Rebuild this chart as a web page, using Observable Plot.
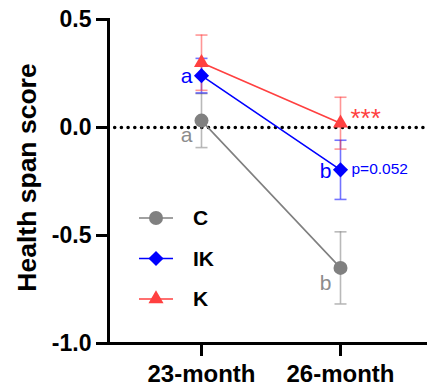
<!DOCTYPE html>
<html>
<head>
<meta charset="utf-8">
<script src="https://cdn.jsdelivr.net/npm/d3@7"></script>
<script src="https://cdn.jsdelivr.net/npm/@observablehq/plot@0.6"></script>
<style>
  html, body { margin: 0; padding: 0; background: #fff; }
  #chart { position: relative; width: 427px; height: 388px; }
  #chart svg { position: absolute; left: 0; top: 0; }
</style>
</head>
<body>
<div id="chart"></div>
<script>
// ---- data ----
const times = ["23-month", "26-month"];
const groups = ["C", "IK", "K"];
const colors = ["#808080", "#0000ff", "#ff4040"];
const symbols = ["circle", "diamond2", "triangle"];
const meanC = [0.032, -0.65];
const semC = [0.125, 0.167];
const meanIK = [0.24, -0.196];
const semIK = [0.08, 0.137];
const meanK = [0.30, 0.02];
const semK = [0.128, 0.12];
const lettersC = ["a", "b"];
const lettersIK = ["a", "b"];
const starsK = ["", "***"];
const pIK = ["", "p=0.052"];
const yTicks = [-1, -0.5, 0, 0.5];
const yLabel = "Health span score";

const means = {C: meanC, IK: meanIK, K: meanK};
const sems = {C: semC, IK: semIK, K: semK};
const rows = groups.flatMap(g => times.map((t, i) => ({
  group: g, time: t, mean: means[g][i], sem: sems[g][i]
})));
const ann = (g, arr) => times.map((t, i) => ({time: t, mean: means[g][i], label: arr[i]})).filter(d => d.label);

const font = "Liberation Sans, Arial, Helvetica, sans-serif";
const cap = {draw(ctx, size) { const w = Math.sqrt(size / Math.PI); ctx.moveTo(-w, 0); ctx.lineTo(w, 0); }};
const rSize = {C: 7, IK: 6.8, K: 5.6};

const marks = [
  Plot.ruleY([0], {stroke: "black", strokeWidth: 3.6, strokeDasharray: "0 6.7", strokeLinecap: "round"}),
  Plot.frame({anchor: "left", stroke: "black", strokeWidth: 3}),
  Plot.frame({anchor: "bottom", stroke: "black", strokeWidth: 3}),
  Plot.axisY({ticks: yTicks, tickFormat: d => d.toFixed(1), tickSize: 12, tickPadding: 5, strokeWidth: 3,
    fontSize: 23, fontWeight: "bold", label: null, fill: "black"}),
  Plot.axisX({tickSize: 13, tickPadding: 8, strokeWidth: 3, fontSize: 24, fontWeight: "bold", label: null, fill: "black"}),
  Plot.text([yLabel], {frameAnchor: "left", textAnchor: "middle", dx: -81, dy: -4, rotate: -90, text: d => d, fontSize: 26.5, fontWeight: "bold", fill: "black"})
];
groups.forEach((g, gi) => {
  const data = rows.filter(d => d.group === g);
  marks.push(
    Plot.ruleX(data, {x: "time", y1: d => d.mean - d.sem, y2: d => d.mean + d.sem, stroke: colors[gi], strokeWidth: 1.6, strokeOpacity: 0.55}),
    Plot.dot(data, {x: "time", y: d => d.mean + d.sem, symbol: cap, r: 6, stroke: colors[gi], strokeWidth: 1.6, strokeOpacity: 0.55}),
    Plot.dot(data, {x: "time", y: d => d.mean - d.sem, symbol: cap, r: 6, stroke: colors[gi], strokeWidth: 1.6, strokeOpacity: 0.55}),
    Plot.line(data, {x: "time", y: "mean", stroke: colors[gi], strokeWidth: 1.6})
  );
});
groups.forEach((g, gi) => {
  const data = rows.filter(d => d.group === g);
  marks.push(Plot.dot(data, {x: "time", y: "mean", symbol: symbols[gi], r: rSize[g], fill: colors[gi], stroke: "none"}));
});
marks.push(
  Plot.text(ann("C", lettersC), {x: "time", y: "mean", text: "label", dx: -15, dy: 15, fontSize: 21, fill: "#8c8c8c"}),
  Plot.text(ann("IK", lettersIK), {x: "time", y: "mean", text: "label", dx: -15, dy: 1, fontSize: 21, fill: colors[1]}),
  Plot.text(ann("IK", pIK), {x: "time", y: "mean", text: "label", dx: 11, dy: -1, fontSize: 15.5, textAnchor: "start", fill: colors[1]}),
  Plot.text(ann("K", starsK), {x: "time", y: "mean", text: "label", dx: 10, dy: -5, fontSize: 26, textAnchor: "start", fill: colors[2]})
);

const plot = Plot.plot({
  width: 427, height: 388,
  marginLeft: 108, marginRight: 0, marginTop: 19, marginBottom: 45,
  style: {fontFamily: font, overflow: "visible", background: "transparent"},
  x: {type: "point", domain: times, range: [201, 340], padding: 0, axis: null},
  y: {domain: [-1, 0.5], axis: null},
  marks
});
document.getElementById("chart").append(plot);

// legend overlay
const lg = d3.select("#chart").append("svg")
  .attr("width", 427).attr("height", 388).style("pointer-events", "none");
const legendX = 139, legendY0 = 218, legendStep = 40.5;
groups.forEach((g, gi) => {
  const y = legendY0 + gi * legendStep;
  const item = lg.append("g").attr("transform", `translate(${legendX},${y})`);
  item.append("line").attr("x1", 0).attr("x2", 34).attr("stroke", colors[gi]).attr("stroke-width", 1.6);
  const size = Math.PI * rSize[g] * rSize[g];
  const sym = [d3.symbolCircle, d3.symbolDiamond2, d3.symbolTriangle][gi];
  item.append("path").attr("transform", "translate(17,0)").attr("d", d3.symbol(sym, size)()).attr("fill", colors[gi]);
  item.append("text").attr("x", 54).attr("dy", "0.35em").text(g)
    .attr("font-family", font).attr("font-weight", "bold").attr("font-size", 21).attr("fill", "black");
});
</script>
</body>
</html>
